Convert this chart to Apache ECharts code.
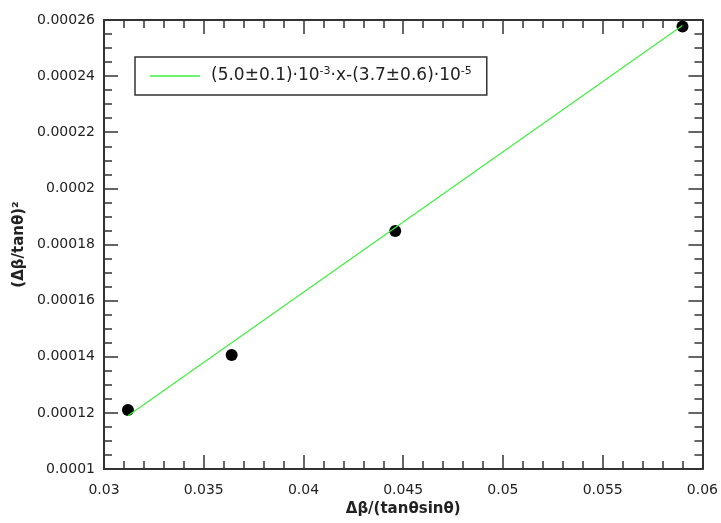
<!DOCTYPE html>
<html><head><meta charset="utf-8">
<script src="https://cdn.jsdelivr.net/npm/echarts@6/dist/echarts.min.js"></script>
<style>html,body{margin:0;padding:0;background:#fff}#c{width:721px;height:523px}</style>
</head><body><div id="c"></div>
<script>
// Data
const pointsX = [0.0312, 0.0364, 0.0446, 0.0590];
const pointsY = [0.000121, 0.0001406, 0.0001848, 0.0002577];
const fitX = [0.0312, 0.0590];
const fitY = [0.000119, 0.000258];
const xTickLabels = ['0.03','0.035','0.04','0.045','0.05','0.055','0.06'];
const yTickLabels = ['0.0001','0.00012','0.00014','0.00016','0.00018','0.0002','0.00022','0.00024','0.00026'];
const fitLabel = '(5.0±0.1)·10{s|-3}·x-(3.7±0.6)·10{s|-5}';
const xTitle = 'Δβ/(tanθsinθ)';
const yTitle = '(Δβ/tanθ)²';

const FONT = 'DejaVu Sans';
const axisCol = '#333';
function xAxisCfg(pos, showLabel) {
  return {
    type: 'value', position: pos, min: 0.03, max: 0.06, interval: 0.005,
    axisLine: {show: true, onZero: false, lineStyle: {color: axisCol, width: 2}},
    axisTick: {show: true, inside: true, length: 14, lineStyle: {color: axisCol, width: 1.5}},
    minorTick: {show: true, splitNumber: 5, length: 8, lineStyle: {color: axisCol, width: 1.5}},
    splitLine: {show: false},
    axisLabel: {show: showLabel, margin: 14, color: '#222', fontFamily: FONT, fontSize: 14,
      formatter: (v, i) => xTickLabels[i]},
    name: showLabel ? xTitle : '', nameLocation: 'middle', nameGap: 33,
    nameTextStyle: {fontFamily: FONT, fontSize: 15, fontWeight: 'bold', color: '#222'}
  };
}
function yAxisCfg(pos, showLabel) {
  return {
    type: 'value', position: pos, min: 0.0001, max: 0.00026, interval: 0.00002,
    axisLine: {show: true, onZero: false, lineStyle: {color: axisCol, width: 2}},
    axisTick: {show: true, inside: true, length: 14, lineStyle: {color: axisCol, width: 1.5}},
    minorTick: {show: true, splitNumber: 4, length: 8, lineStyle: {color: axisCol, width: 1.5}},
    splitLine: {show: false},
    axisLabel: {show: showLabel, margin: 9, color: '#222', fontFamily: FONT, fontSize: 14,
      formatter: (v, i) => yTickLabels[i]},
    name: showLabel ? yTitle : '', nameLocation: 'middle', nameGap: 71,
    nameTextStyle: {fontFamily: FONT, fontSize: 15, fontWeight: 'bold', color: '#222'}
  };
}
const chart = echarts.init(document.getElementById('c'), null, {renderer: 'canvas'});
chart.setOption({
  animation: false,
  backgroundColor: '#fff',
  grid: {left: 104, right: 17, top: 20, bottom: 54},
  xAxis: [xAxisCfg('bottom', true), xAxisCfg('top', false)],
  yAxis: [yAxisCfg('left', true), yAxisCfg('right', false)],
  legend: {
    data: [{name: 'fit', icon: 'rect', itemStyle: {color: '#3ef03e'}}],
    left: 135, top: 57, orient: 'horizontal',
    padding: [9, 15, 9, 15], borderColor: '#333', borderWidth: 1.5,
    itemWidth: 50, itemHeight: 1.5,
    formatter: () => fitLabel,
    textStyle: {fontFamily: FONT, fontSize: 17, color: '#222', lineHeight: 20, padding: [0, 0, 0, 6],
      rich: {s: {fontFamily: FONT, fontSize: 11, color: '#222', verticalAlign: 'top', lineHeight: 12}}}
  },
  series: [
    {name: 'fit', type: 'line', xAxisIndex: 0, yAxisIndex: 0, symbol: 'none', showSymbol: false,
      lineStyle: {color: '#3ef03e', width: 1.2}, itemStyle: {color: '#3ef03e'},
      data: fitX.map((x, i) => [x, fitY[i]]), z: 3},
    {name: 'data', type: 'scatter', xAxisIndex: 0, yAxisIndex: 0, symbol: 'circle', symbolSize: 12,
      itemStyle: {color: '#000', opacity: 1}, data: pointsX.map((x, i) => [x, pointsY[i]]), z: 2}
  ]
});
</script></body></html>
